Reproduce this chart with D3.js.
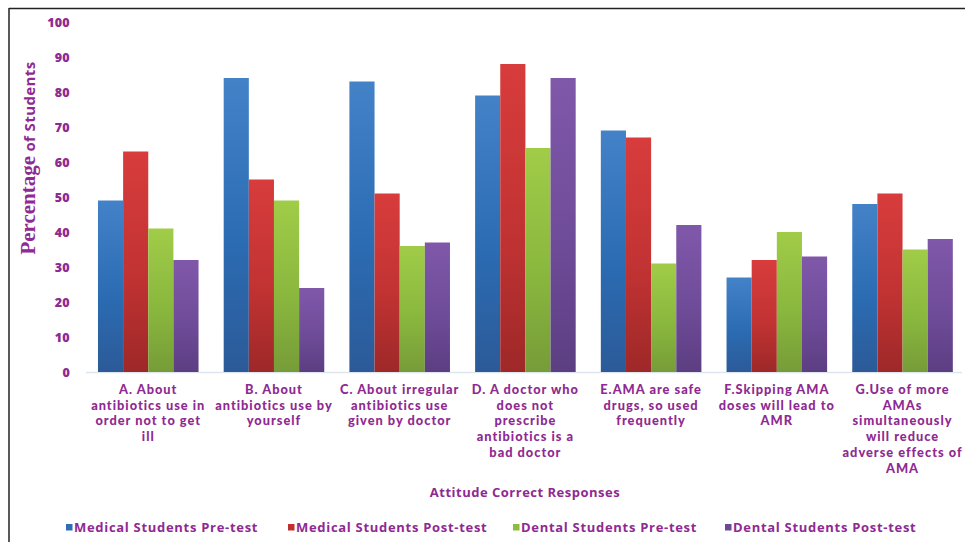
<!DOCTYPE html>
<html>
<head>
<meta charset="utf-8">
<script src="https://cdn.jsdelivr.net/npm/d3@7"></script>
<style>
  html, body { margin: 0; padding: 0; background: #fff; }
  svg { display: block; }
</style>
</head>
<body>
<svg id="chart" width="965" height="542"></svg>
<script>
// ---- data ----
const categories = ["A", "B", "C", "D", "E", "F", "G"];
const categoryLabels = [
  ["A. About", "antibiotics use in", "order not to get", "ill"],
  ["B. About", "antibiotics use by", "yourself"],
  ["C. About irregular", "antibiotics use", "given by doctor"],
  ["D. A doctor who", "does not", "prescribe", "antibiotics is a", "bad doctor"],
  ["E.AMA are safe", "drugs, so used", "frequently"],
  ["F.Skipping AMA", "doses will lead to", "AMR"],
  ["G.Use of more", "AMAs", "simultaneously", "will reduce", "adverse effects of", "AMA"]
];
const seriesNames = ["Medical Students Pre-test", "Medical Students Post-test", "Dental Students Pre-test", "Dental Students Post-test"];
const medicalPre  = [49, 84, 83, 79, 69, 27, 48];
const medicalPost = [63, 55, 51, 88, 67, 32, 51];
const dentalPre   = [41, 49, 36, 64, 31, 40, 35];
const dentalPost  = [32, 24, 37, 84, 42, 33, 38];
const yTicks = [0, 10, 20, 30, 40, 50, 60, 70, 80, 90, 100];
const xTitle = "Attitude Correct Responses";

const seriesValues = [medicalPre, medicalPost, dentalPre, dentalPost];
const colors = [
  {top: "#4482c8", mid: "#2b6cb3", bot: "#2c5a98", key: "#2f6db5"},
  {top: "#d83c3c", mid: "#c23333", bot: "#9e2828", key: "#c0302f"},
  {top: "#a0cc48", mid: "#8ab83e", bot: "#769c38", key: "#8cbd3c"},
  {top: "#8058aa", mid: "#6f4c99", bot: "#5c3e82", key: "#6a4a98"}
];
const textColor = "#8e2a92";
const sans = "'Open Sans', Lato, sans-serif";

const svg = d3.select("#chart");
const defs = svg.append("defs");
colors.forEach((c, i) => {
  const g = defs.append("linearGradient").attr("id", "grad" + i)
    .attr("x1", 0).attr("y1", 0).attr("x2", 0).attr("y2", 1);
  g.append("stop").attr("offset", "0%").attr("stop-color", c.top);
  g.append("stop").attr("offset", "55%").attr("stop-color", c.mid);
  g.append("stop").attr("offset", "100%").attr("stop-color", c.bot);
});

// frame
svg.append("line").attr("x1", 9).attr("x2", 965).attr("y1", 8.5).attr("y2", 8.5)
  .attr("stroke", "#222").attr("stroke-width", 1.5);
svg.append("line").attr("x1", 9).attr("x2", 9).attr("y1", 8).attr("y2", 542)
  .attr("stroke", "#222").attr("stroke-width", 1.5);

const x0 = d3.scaleBand().domain(categories).range([85.4, 965.4])
  .paddingInner(0.2).paddingOuter(0.1);
const x1 = d3.scaleBand().domain(d3.range(seriesNames.length)).range([0, x0.bandwidth()]);
const y = d3.scaleLinear().domain([0, 100]).range([372, 22]);

// baseline
svg.append("line").attr("x1", 86).attr("x2", 962).attr("y1", y(0) + 0.5).attr("y2", y(0) + 0.5)
  .attr("stroke", "#dde5ee").attr("stroke-width", 1.5);

// y axis (text only)
const yAxis = d3.axisLeft(y).tickValues(yTicks).tickSize(0).tickPadding(0);
const ya = svg.append("g").attr("transform", "translate(70,0)").call(yAxis);
ya.select(".domain").remove();
ya.selectAll("text")
  .attr("fill", textColor)
  .style("font-family", sans)
  .style("font-weight", "800")
  .style("font-size", "12.5px")
  .style("letter-spacing", "0.3px");

// bars
const groups = svg.append("g").selectAll("g").data(categories).join("g")
  .attr("transform", d => `translate(${x0(d)},0)`);
groups.selectAll("rect")
  .data((d, ci) => seriesValues.map((vals, si) => ({si, v: vals[ci]})))
  .join("rect")
  .attr("x", d => x1(d.si))
  .attr("width", x1.bandwidth())
  .attr("y", d => y(d.v))
  .attr("height", d => y(0) - y(d.v))
  .attr("fill", d => `url(#grad${d.si})`);

// category labels
const lh = 15.7;
const labG = svg.append("g");
categories.forEach((c, i) => {
  const t = labG.append("text")
    .attr("x", x0(c) + x0.bandwidth() / 2)
    .attr("y", 394)
    .attr("text-anchor", "middle")
    .attr("fill", textColor)
    .style("font-family", "Lato, 'Open Sans', sans-serif")
    .style("font-weight", "900")
    .style("font-size", "12.8px")
    .style("letter-spacing", "1px");
  categoryLabels[i].forEach((line, li) => {
    t.append("tspan").attr("x", x0(c) + x0.bandwidth() / 2).attr("y", 394 + li * lh).text(line);
  });
});

// x title
svg.append("text").attr("x", 525).attr("y", 496.5).attr("text-anchor", "middle")
  .attr("fill", textColor)
  .style("font-family", sans)
  .style("font-weight", "700").style("font-size", "13px")
  .style("letter-spacing", "0.5px")
  .text(xTitle);

// y title
const yt = svg.append("text")
  .attr("transform", "translate(35,158) rotate(-90)")
  .attr("text-anchor", "middle")
  .attr("fill", textColor);
yt.append("tspan").style("font-family", "'Liberation Serif', 'DejaVu Serif', serif")
  .style("font-weight", "700").style("font-size", "21px").text("Percentage");
yt.append("tspan").style("font-family", sans)
  .style("font-weight", "700").style("font-size", "15px").style("letter-spacing", "0.4px")
  .text(" of Students");

// legend
const legendX = [66, 288, 513, 725];
const lg = svg.append("g");
seriesNames.forEach((n, i) => {
  lg.append("rect").attr("x", legendX[i]).attr("y", 524).attr("width", 6.5).attr("height", 6.5)
    .attr("fill", colors[i].key);
  lg.append("text").attr("x", legendX[i] + 8).attr("y", 531.5)
    .attr("fill", textColor)
    .style("font-family", sans)
    .style("font-weight", "700").style("font-size", "13px")
    .style("letter-spacing", "0.7px")
    .text(n);
});
</script>
</body>
</html>
